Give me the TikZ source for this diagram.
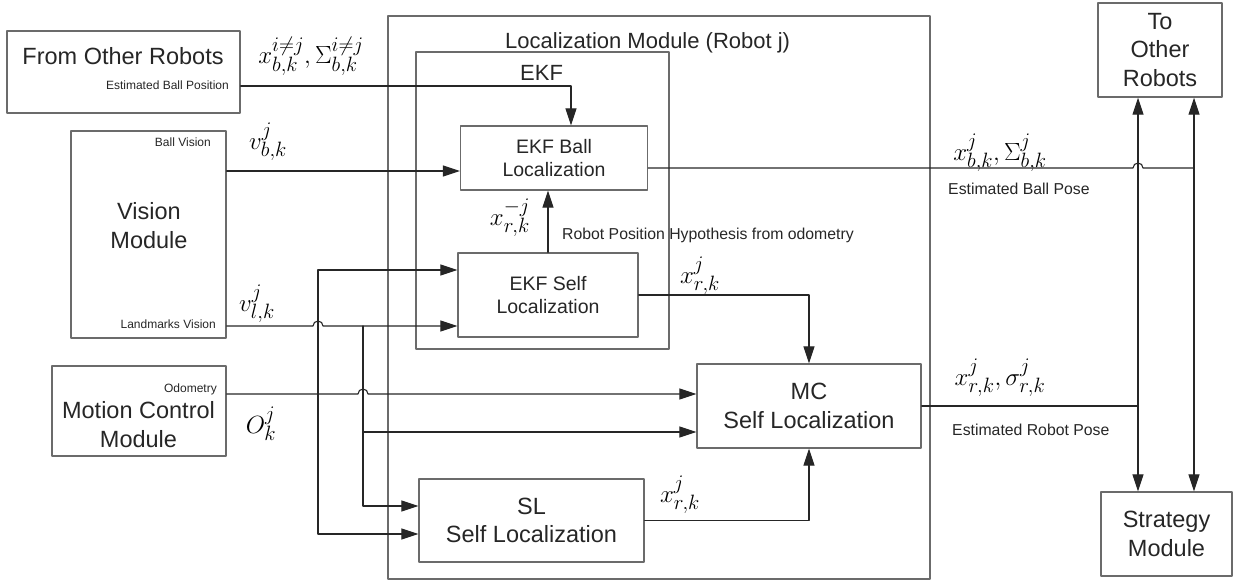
\documentclass[tikz,border=0pt]{standalone}
\usepackage{fontspec}
\setmainfont{Liberation Sans}
\usetikzlibrary{arrows.meta,calc}
\definecolor{boxgray}{rgb}{0.42,0.42,0.42}
\definecolor{txtgray}{rgb}{0.15,0.15,0.15}
\tikzset{
  box/.style={draw=boxgray,line width=1.3pt,inner sep=0pt,align=center,text=txtgray},
  bigtxt/.style={font=\fontsize{23.5}{28.5}\selectfont},
  midtxt/.style={font=\fontsize{19.5}{23}\selectfont},
  smalltxt/.style={font=\fontsize{12}{14}\selectfont,text=txtgray,inner sep=0pt},
  note/.style={font=\fontsize{15.8}{18}\selectfont,text=txtgray,inner sep=0pt},
  sym/.style={font=\fontsize{28}{30}\selectfont,inner sep=0pt},
  wire/.style={line width=1.1pt,black!85},
}
\begin{document}
\begin{tikzpicture}[line cap=round,line join=round,>={Triangle[length=17pt,width=11pt]},x=1pt,y=-1pt]
\useasboundingbox (0,0) rectangle (1238,582);
% boxes
\node[box,minimum width=542pt,minimum height=563pt] (loc) at (659,297.5) {};
\node[box,minimum width=253pt,minimum height=297pt] (ekf) at (542.5,200.5) {};
\node[box,midtxt,minimum width=187pt,minimum height=64pt] (ball) at (554,158) {EKF Ball\\Localization};
\node[box,midtxt,minimum width=180pt,minimum height=84pt] (ekfself) at (548,295) {EKF Self\\Localization};
\node[box,minimum width=233pt,minimum height=82pt] (other) at (123.5,72) {};
\node[box,minimum width=155pt,minimum height=207pt] (vision) at (148.5,234.5) {};
\node[box,minimum width=174pt,minimum height=90pt] (motion) at (139,411) {};
\node[box,bigtxt,minimum width=224pt,minimum height=84pt] (mc) at (809,406) {MC\\Self Localization};
\node[box,bigtxt,minimum width=225pt,minimum height=83pt] (sl) at (531.5,520.5) {SL\\Self Localization};
\node[box,bigtxt,minimum width=124pt,minimum height=94pt] (toother) at (1160,50) {To\\Other\\Robots};
\node[box,bigtxt,minimum width=131pt,minimum height=84pt] (strategy) at (1166.5,534) {Strategy\\Module};
% texts
\node[bigtxt,anchor=base,inner sep=0pt,text=txtgray] (othertxt) at (123,64) {From Other Robots};
\node[smalltxt,anchor=base east] (ballpos) at (229,89) {Estimated Ball Position};
\node[bigtxt,align=center,inner sep=0pt,text=txtgray] (visiontxt) at (149,225.5) {Vision\\Module};
\node[smalltxt,anchor=base east] (ballvis) at (211,146) {Ball Vision};
\node[smalltxt,anchor=base east] (landvis) at (216,328) {Landmarks Vision};
\node[bigtxt,align=center,inner sep=0pt,text=txtgray] (motiontxt) at (138.5,424.5) {Motion Control\\Module};
\node[smalltxt,anchor=base east] (odom) at (217,392) {Odometry};
\node[font=\fontsize{22}{26}\selectfont,text=txtgray,inner sep=0pt,anchor=base west] (loctitle) at (505,48) {Localization Module (Robot j)};
\node[font=\fontsize{22}{26}\selectfont,text=txtgray,inner sep=0pt,anchor=base west] (ekftitle) at (520,80) {EKF};
\node[note,anchor=base west] (hyp) at (562,239) {Robot Position Hypothesis from odometry};
\node[note,anchor=base west] (ballpose) at (948,194) {Estimated Ball Pose};
\node[note,anchor=base west] (robotpose) at (952,435) {Estimated Robot Pose};
% symbols
\node[sym] (lblother) at (311,56) {$x_{b,k}^{i\neq j},\Sigma_{b,k}^{i\neq j}$};
\node[sym] (lblvb) at (268,142) {$v_{b,k}^{j}$};
\node[sym] (lblvl) at (257,304) {$v_{l,k}^{j}$};
\node[sym] (lblo) at (261,424) {$O_{k}^{j}$};
\node[sym] (lblxm) at (510,218) {$x_{r,k}^{-j}$};
\node[sym] (lblxs) at (700,276) {$x_{r,k}^{j}$};
\node[sym] (lblxsl) at (680,495) {$x_{r,k}^{j}$};
\node[sym] (lblxb) at (1000,153) {$x_{b,k}^{j},\Sigma_{b,k}^{j}$};
\node[sym] (lblxr) at (1000,378) {$x_{r,k}^{j},\sigma_{r,k}^{j}$};
% junctions
\coordinate (odx) at (318,394);
\coordinate (lmx) at (363,326);
\coordinate (otherin) at (571,86);
\coordinate (rbus) at (1138,406);
\coordinate (bbus) at (1194,168);
\coordinate (selfin1) at ([yshift=25pt]ekfself.west);
\coordinate (selfin2) at ([yshift=-31pt]ekfself.west);
\coordinate (mcin1) at ([yshift=12pt]mc.west);
\coordinate (mcin2) at ([yshift=-26pt]mc.west);
\coordinate (slin1) at ([yshift=14.5pt]sl.west);
\coordinate (slin2) at ([yshift=-13.5pt]sl.west);
\coordinate (ballin) at ([yshift=-13pt]ball.west);
\coordinate (ballout) at ([yshift=-10pt]ball.east);
% connectors
\draw[wire,->] (other.east |- otherin) -- (otherin) -- (otherin |- ball.north);
\draw[wire,->] (vision.east |- ballin) -- (ballin);
\draw[wire,->] (vision.east |- lmx) -- ($(odx |- lmx)+(-5,0)$) arc[start angle=180,end angle=360,radius=5] -- (selfin2);
\draw[wire,->] (lmx) |- (slin1);
\draw[wire,->] (lmx |- mcin2) -- (mcin2);
\draw[wire,->] (motion.east |- odx) -- ($(lmx |- odx)+(-5,0)$) arc[start angle=180,end angle=360,radius=5] -- (mcin1);
\draw[wire,->] (odx) |- (selfin1);
\draw[wire,->] (odx) |- (slin2);
\draw[wire,->] (ekfself.north) -- (ekfself.north |- ball.south);
\draw[wire,->] (ekfself.east) -| (mc.north);
\draw[wire,->] (sl.east) -| (mc.south);
\draw[wire] (ballout) -- ($(rbus |- ballout)+(-5,0)$) arc[start angle=180,end angle=360,radius=5] -- (bbus);
\draw[wire] (mc.east) -- (rbus);
\draw[wire,->] (rbus) -- (rbus |- toother.south);
\draw[wire,->] (rbus) -- (rbus |- strategy.north);
\draw[wire,->] (bbus) -- (bbus |- toother.south);
\draw[wire,->] (bbus) -- (bbus |- strategy.north);
\end{tikzpicture}
\end{document}
